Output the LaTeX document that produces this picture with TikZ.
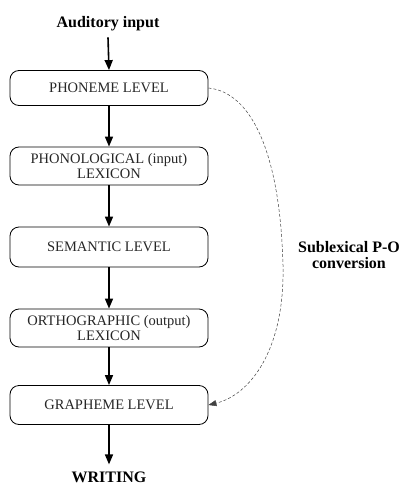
\documentclass[tikz,border=0pt]{standalone}
\usepackage{fontspec}
\setmainfont{Liberation Serif}
\usetikzlibrary{arrows.meta}
\begin{document}
\begin{tikzpicture}[x=1pt,y=-1pt,
  levelbox/.style={draw, line width=0.8pt, rounded corners=9pt,
    minimum width=198pt, minimum height=38pt, align=center,
    inner sep=0pt, text=black!85,
    font=\fontsize{14.5}{15}\selectfont},
  endlabel/.style={font=\bfseries\fontsize{16}{17}\selectfont, inner sep=0pt},
  flow/.style={line width=1.6pt, -{Triangle[width=8pt,length=10pt]}},
  route/.style={densely dashed, line width=0.5pt, black!75,
    -{Triangle[width=6pt,length=8pt]}}]
\useasboundingbox (0,0) rectangle (406,487);

\node[endlabel] (aud) at (108,24) {Auditory input};
\node[levelbox, minimum height=35pt] (pho) at (109,88) {PHONEME LEVEL};
\node[levelbox] (plex) at (109,166) {PHONOLOGICAL (input)\\LEXICON};
\node[levelbox, minimum height=40pt] (sem) at (109,247) {SEMANTIC LEVEL};
\node[levelbox] (olex) at (109,328) {ORTHOGRAPHIC (output)\\LEXICON};
\node[levelbox, minimum height=39pt] (gra) at (109,405) {GRAPHEME LEVEL};
\node[endlabel] (wri) at (109,477) {WRITING};

\node[endlabel, align=center, font=\bfseries\fontsize{16}{16}\selectfont]
  (sub) at (349,255) {Sublexical P-O\\conversion};

\draw[flow] ([yshift=-6pt]aud.south) -- (pho.north);
\draw[flow] (pho) -- (plex);
\draw[flow] (plex) -- (sem);
\draw[flow] (sem) -- (olex);
\draw[flow] (olex) -- (gra);
\draw[flow] (gra) -- ([yshift=7pt]wri.north);

\coordinate (bend) at (283,265);
\draw[route] (pho.east) .. controls (250,92) and (280,150) .. (bend)
  .. controls (285,350) and (250,395) .. (gra.east);
\end{tikzpicture}
\end{document}
